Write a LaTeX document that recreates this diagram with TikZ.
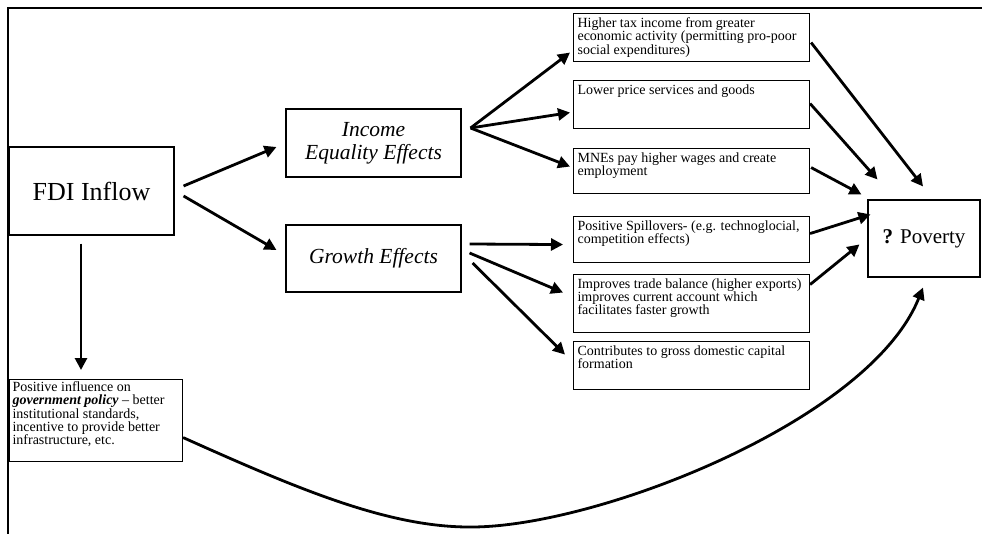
\documentclass[tikz,border=0pt]{standalone}
\usepackage{fontspec}
\setmainfont{Liberation Serif}
\usetikzlibrary{arrows.meta,calc}
\newcommand{\boxtext}[3]{\parbox[c][#2][t]{#1}{\vspace*{4pt}\leftskip=4pt\rightskip=0pt plus 1fil\lineskiplimit=-20pt\fontsize{14}{13.3}\selectfont\strut #3}}
\newcommand{\poltext}[3]{\parbox[c][#2][t]{#1}{\vspace*{2pt}\leftskip=3pt\rightskip=0pt plus 1fil\lineskiplimit=-20pt\fontsize{14}{13.3}\selectfont\strut #3}}
\tikzset{
  frameline/.style={line width=1.3pt},
  bigbox/.style={draw, line width=1.1pt, inner sep=0pt, align=center},
  smallbox/.style={draw, line width=1.1pt, inner sep=0pt, anchor=north west},
  arr/.style={line width=2.8pt, -{Triangle[length=12pt,width=12pt]}},
}
\begin{document}
\begin{tikzpicture}[x=1pt,y=-1pt]
\useasboundingbox (0,0) rectangle (982,534);
% frame
\draw[frameline] (8,534) -- (8,8) -- (982,8);
% main boxes
\node[bigbox, minimum width=165pt, minimum height=88pt, font={\fontsize{26}{30}\selectfont}] (fdi) at (91.5,191) {FDI Inflow};
\node[bigbox, minimum width=175pt, minimum height=68pt, font={\fontsize{21.5}{23}\selectfont\itshape}] (inc) at (373.5,143) {Income\\ Equality Effects};
\node[bigbox, minimum width=175pt, minimum height=67pt, font={\fontsize{21.5}{23}\selectfont\itshape}] (gro) at (373.5,258.5) {Growth Effects};
\node[bigbox, minimum width=112pt, minimum height=77pt, font={\fontsize{21}{24}\selectfont}] (pov) at (924,238.5) {\textbf{?} Poverty};
% right boxes
\node[smallbox] (b1) at (573,13) {\boxtext{236pt}{48pt}{Higher tax income from greater\\ economic activity (permitting pro-poor\\ social expenditures)}};
\node[smallbox] (b2) at (573,80) {\boxtext{236pt}{48pt}{Lower price services and goods}};
\node[smallbox] (b3) at (573,148) {\boxtext{236pt}{45pt}{MNEs pay higher wages and create\\ employment}};
\node[smallbox] (b4) at (573,216) {\boxtext{236pt}{46pt}{Positive Spillovers- (e.g. technoglocial,\\ competition effects)}};
\node[smallbox] (b5) at (573,274) {\boxtext{236pt}{58pt}{Improves trade balance (higher exports)\\ improves current account which\\ facilitates faster growth}};
\node[smallbox] (b6) at (573,341) {\boxtext{236pt}{48pt}{Contributes to gross domestic capital\\ formation}};
% policy box
\node[smallbox] (pol) at (9,379) {\poltext{173pt}{82pt}{Positive influence on\\ \textbf{\textit{government policy}} -- better\\ institutional standards,\\ incentive to provide better\\ infrastructure, etc.}};
% arrows from FDI
\draw[arr] ($(fdi.east)+(9,-5)$) -- ($(inc.west)+(-9,4)$);
\draw[arr] ($(fdi.east)+(9,5)$) -- ($(gro.west)+(-9,-8.5)$);
\draw[arr] ($(fdi.south)+(-10.5,8)$) -- ($(fdi.south |- pol.north)+(-10.5,-9)$);
% income effects
\draw[arr] ($(inc.east)+(9,-15)$) -- ($(b1.west)+(-3,15)$);
\draw[arr] ($(inc.east)+(9,-15)$) -- ($(b2.west)+(-3,8)$);
\draw[arr] ($(inc.east)+(9,-15)$) -- ($(b3.west)+(-3,-4.5)$);
% growth effects
\draw[arr] ($(gro.east)+(8,-14.5)$) -- ($(b4.west)+(-10,5)$);
\draw[arr] ($(gro.east)+(8,-5.5)$) -- ($(b5.west)+(-10,-11)$);
\draw[arr] ($(gro.east)+(11,4.5)$) -- ($(b6.west)+(-8,-11)$);
% into poverty
\draw[arr] ($(b1.east)+(1,5)$) -- ($(pov.north)+(-1,-13)$);
\draw[arr] ($(b2.east)+(0,-1)$) -- ($(pov.north west)+(10,-20)$);
\draw[arr] ($(b3.east)+(1,-3.5)$) -- ($(pov.north west)+(-6,-5)$);
\draw[arr] ($(b4.east)+(0,-6)$) -- ($(pov.north west)+(3,15)$);
\draw[arr] ($(b5.east)+(0,-19)$) -- ($(pov.north west)+(-8,45)$);
% policy to poverty
\draw[arr] ($(pol.east)+(0,17)$) .. controls (300,490) and (390,528) .. (473,527)
  .. controls (600,526) and (870,420) .. ($(pov.south)+(-1,10)$);
\end{tikzpicture}
\end{document}
